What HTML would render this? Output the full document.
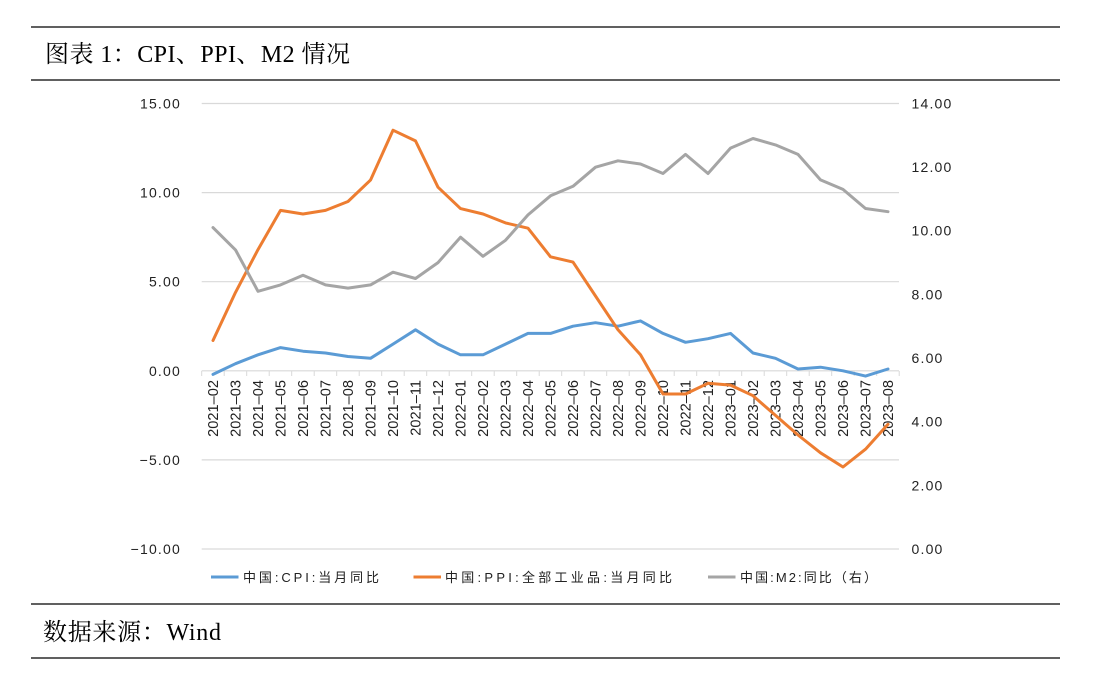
<!DOCTYPE html>
<html><head><meta charset="utf-8"><style>
html,body{margin:0;padding:0;background:#fff;}
svg{display:block;}
.tk{font-family:"Liberation Sans","Noto Sans CJK SC",sans-serif;font-size:14px;fill:#222;letter-spacing:1.2px;}
.xl{font-family:"Liberation Sans",sans-serif;font-size:14.6px;fill:#222;}
.lg{font-family:"Liberation Sans","Noto Sans CJK SC",sans-serif;font-size:13px;fill:#222;}
.tt{font-family:"Liberation Serif","Noto Serif CJK SC",serif;font-size:24px;fill:#000;}
</style></head><body>
<svg width="1097" height="677" viewBox="0 0 1097 677" xmlns="http://www.w3.org/2000/svg">
<rect width="1097" height="677" fill="#fff"/>
<line x1="31" y1="27" x2="1060" y2="27" stroke="#000" stroke-width="1.3"/>
<line x1="31" y1="80" x2="1060" y2="80" stroke="#000" stroke-width="1.3"/>
<line x1="31" y1="604" x2="1060" y2="604" stroke="#000" stroke-width="1.3"/>
<line x1="31" y1="658" x2="1060" y2="658" stroke="#000" stroke-width="1.3"/>
<text class="tt" x="45" y="62" textLength="305" lengthAdjust="spacing">图表 1：CPI、PPI、M2 情况</text>
<text class="tt" x="43" y="640" textLength="178" lengthAdjust="spacing">数据来源：Wind</text>

<g stroke="#d9d9d9" stroke-width="1.2">
<line x1="201.7" y1="103.5" x2="899" y2="103.5"/>
<line x1="201.7" y1="192.6" x2="899" y2="192.6"/>
<line x1="201.7" y1="281.7" x2="899" y2="281.7"/>
<line x1="201.7" y1="459.9" x2="899" y2="459.9"/>
<line x1="201.7" y1="549" x2="899" y2="549"/>
<line x1="201.7" y1="370.8" x2="899" y2="370.8"/>
</g>
<g stroke="#d9d9d9" stroke-width="1">
<path d="M201.7 371v5M224.2 371v5M246.7 371v5M269.2 371v5M291.7 371v5M314.2 371v5M336.7 371v5M359.2 371v5M381.7 371v5M404.2 371v5M426.7 371v5M449.2 371v5M471.7 371v5M494.2 371v5M516.7 371v5M539.2 371v5M561.7 371v5M584.2 371v5M606.7 371v5M629.2 371v5M651.7 371v5M674.2 371v5M696.7 371v5M719.2 371v5M741.7 371v5M764.2 371v5M786.7 371v5M809.2 371v5M831.7 371v5M854.2 371v5M876.7 371v5M899.2 371v5"/>
</g>

<g class="tk" text-anchor="end">
<text x="181" y="108.5">15.00</text>
<text x="181" y="197.6">10.00</text>
<text x="181" y="286.7">5.00</text>
<text x="181" y="375.8">0.00</text>
<text x="181" y="464.9">−5.00</text>
<text x="181" y="554">−10.00</text>
</g>
<g class="tk">
<text x="911.5" y="108.5">14.00</text>
<text x="911.5" y="172.1">12.00</text>
<text x="911.5" y="235.7">10.00</text>
<text x="911.5" y="299.4">8.00</text>
<text x="911.5" y="363">6.00</text>
<text x="911.5" y="426.7">4.00</text>
<text x="911.5" y="490.3">2.00</text>
<text x="911.5" y="554">0.00</text>
</g>

<g class="xl" text-anchor="end">
<text transform="translate(218,380) rotate(-90)">2021–02</text>
<text transform="translate(240.5,380) rotate(-90)">2021–03</text>
<text transform="translate(263,380) rotate(-90)">2021–04</text>
<text transform="translate(285.5,380) rotate(-90)">2021–05</text>
<text transform="translate(308,380) rotate(-90)">2021–06</text>
<text transform="translate(330.5,380) rotate(-90)">2021–07</text>
<text transform="translate(353,380) rotate(-90)">2021–08</text>
<text transform="translate(375.5,380) rotate(-90)">2021–09</text>
<text transform="translate(398,380) rotate(-90)">2021–10</text>
<text transform="translate(420.5,380) rotate(-90)">2021–11</text>
<text transform="translate(443,380) rotate(-90)">2021–12</text>
<text transform="translate(465.5,380) rotate(-90)">2022–01</text>
<text transform="translate(488,380) rotate(-90)">2022–02</text>
<text transform="translate(510.5,380) rotate(-90)">2022–03</text>
<text transform="translate(533,380) rotate(-90)">2022–04</text>
<text transform="translate(555.5,380) rotate(-90)">2022–05</text>
<text transform="translate(578,380) rotate(-90)">2022–06</text>
<text transform="translate(600.5,380) rotate(-90)">2022–07</text>
<text transform="translate(623,380) rotate(-90)">2022–08</text>
<text transform="translate(645.5,380) rotate(-90)">2022–09</text>
<text transform="translate(668,380) rotate(-90)">2022–10</text>
<text transform="translate(690.5,380) rotate(-90)">2022–11</text>
<text transform="translate(713,380) rotate(-90)">2022–12</text>
<text transform="translate(735.5,380) rotate(-90)">2023–01</text>
<text transform="translate(758,380) rotate(-90)">2023–02</text>
<text transform="translate(780.5,380) rotate(-90)">2023–03</text>
<text transform="translate(803,380) rotate(-90)">2023–04</text>
<text transform="translate(825.5,380) rotate(-90)">2023–05</text>
<text transform="translate(848,380) rotate(-90)">2023–06</text>
<text transform="translate(870.5,380) rotate(-90)">2023–07</text>
<text transform="translate(893,380) rotate(-90)">2023–08</text>
</g>

<g fill="none" stroke-width="3" stroke-linejoin="round" stroke-linecap="round">
<polyline stroke="#5B9BD5" points="213,374.4 235.5,363.7 258,354.8 280.5,347.6 303,351.2 325.5,353 348,356.5 370.5,358.3 393,344.1 415.5,329.8 438,344.1 460.5,354.8 483,354.8 505.5,344.1 528,333.4 550.5,333.4 573,326.2 595.5,322.7 618,326.2 640.5,320.9 663,333.4 685.5,342.3 708,338.7 730.5,333.4 753,353 775.5,358.3 798,369 820.5,367.2 843,370.8 865.5,376.1 888,369"/>
<polyline stroke="#ED7D31" points="213,340.5 235.5,292.4 258,249.6 280.5,210.4 303,214 325.5,210.4 348,201.5 370.5,180.1 393,130.2 415.5,140.9 438,187.2 460.5,208.6 483,214 505.5,222.9 528,228.2 550.5,256.8 573,262.1 595.5,296 618,329.8 640.5,354.8 663,394 685.5,394 708,383.3 730.5,385.1 753,395.7 775.5,415.4 798,435 820.5,452.8 843,467 865.5,449.2 888,424.3"/>
<polyline stroke="#A5A5A5" points="213,227.6 235.5,249.9 258,291.3 280.5,284.9 303,275.3 325.5,284.9 348,288.1 370.5,284.9 393,272.2 415.5,278.5 438,262.6 460.5,237.2 483,256.3 505.5,240.3 528,214.9 550.5,195.8 573,186.3 595.5,167.2 618,160.8 640.5,164 663,173.5 685.5,154.4 708,173.5 730.5,148.1 753,138.5 775.5,144.9 798,154.4 820.5,179.9 843,189.4 865.5,208.5 888,211.7"/>
</g>

<g stroke-width="3">
<line x1="211" y1="577" x2="238.5" y2="577" stroke="#5B9BD5"/>
<line x1="413.5" y1="577" x2="441" y2="577" stroke="#ED7D31"/>
<line x1="708" y1="577" x2="735.5" y2="577" stroke="#A5A5A5"/>
</g>
<g class="lg">
<text x="243" y="582" textLength="136" lengthAdjust="spacing">中国:CPI:当月同比</text>
<text x="445" y="582" textLength="227" lengthAdjust="spacing">中国:PPI:全部工业品:当月同比</text>
<text x="740" y="582" textLength="137" lengthAdjust="spacing">中国:M2:同比（右）</text>
</g>
</svg>
</body></html>
